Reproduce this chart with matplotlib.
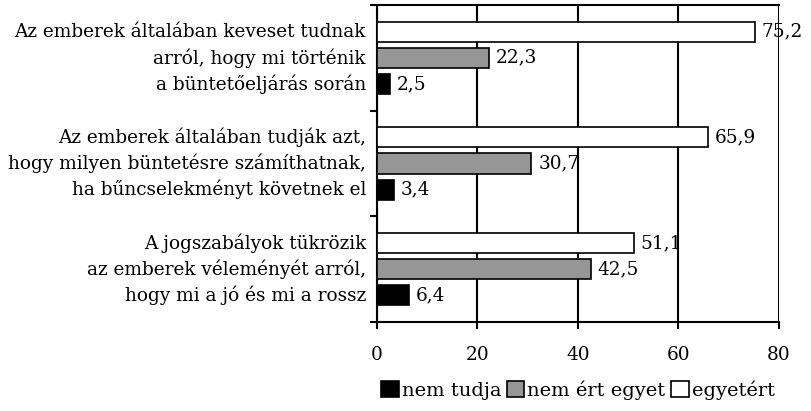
import matplotlib.pyplot as plt
from matplotlib.patches import Patch
from matplotlib.transforms import blended_transform_factory, offset_copy
import numpy as np

plt.rcParams['font.family'] = ['DejaVu Serif']

# data
categories = [
    ["Az emberek általában keveset tudnak", "arról, hogy mi történik", "a büntetőeljárás során"],
    ["Az emberek általában tudják azt,", "hogy milyen büntetésre számíthatnak,", "ha bűncselekményt követnek el"],
    ["A jogszabályok tükrözik", "az emberek véleményét arról,", "hogy mi a jó és mi a rossz"],
]
egyetert = [75.2, 65.9, 51.1]
nem_ert_egyet = [22.3, 30.7, 42.5]
nem_tudja = [2.5, 3.4, 6.4]
xticks = [0, 20, 40, 60, 80]

fs = 13.3
fig = plt.figure(figsize=(8.12, 4.11), dpi=100)
ax = fig.add_axes([377 / 812, 1 - 322 / 411, 402 / 812, 317 / 411])

y = np.arange(len(categories))
off = 0.247
h = 0.19
series = [(egyetert, 'white', -off), (nem_ert_egyet, '#969696', 0), (nem_tudja, 'black', off)]
for vals, col, dy in series:
    ax.barh(y + dy, vals, height=h, color=col, edgecolor='black', linewidth=1.2, zorder=3)
    for yi, v in zip(y, vals):
        ax.annotate(f"{v:.1f}".replace('.', ','), (v, yi + dy), xytext=(5, 0),
                    textcoords='offset points', va='center', ha='left', fontsize=fs)

# category labels, one line per bar
tr = offset_copy(blended_transform_factory(ax.transAxes, ax.transData), fig=fig, x=-8, y=0, units='points')
for yi, lines in zip(y, categories):
    for dy, line in zip([-off, 0, off], lines):
        ax.text(0, yi + dy, line, transform=tr, ha='right', va='center', fontsize=fs)

ax.set_xlim(0, 80)
ax.set_ylim(2.5, -0.5)
ax.set_xticks(xticks)
ax.set_xticklabels([str(t) for t in xticks], fontsize=fs)
ax.set_yticks([-0.5, 0.5, 1.5, 2.5])
ax.set_yticklabels([])
ax.tick_params(axis='x', direction='out', length=5, width=1.5, pad=12)
ax.tick_params(axis='y', direction='out', length=5, width=1.5)
ax.grid(axis='x', color='black', linewidth=1.5, zorder=1)
for s in ax.spines.values():
    s.set_linewidth(1.5)
ax.spines['right'].set_visible(False)

handles = [Patch(facecolor='black', edgecolor='black', linewidth=1.2),
           Patch(facecolor='#969696', edgecolor='black', linewidth=1.2),
           Patch(facecolor='white', edgecolor='black', linewidth=1.2)]
fig.legend(handles, ['nem tudja', 'nem ért egyet', 'egyetért'], loc='center',
           bbox_to_anchor=(578 / 812, 1 - 390 / 411), ncol=3, frameon=False,
           fontsize=14, handlelength=0.9, handleheight=0.9, handletextpad=0.15,
           columnspacing=0.3)

fig.savefig('out.png', dpi=100)
